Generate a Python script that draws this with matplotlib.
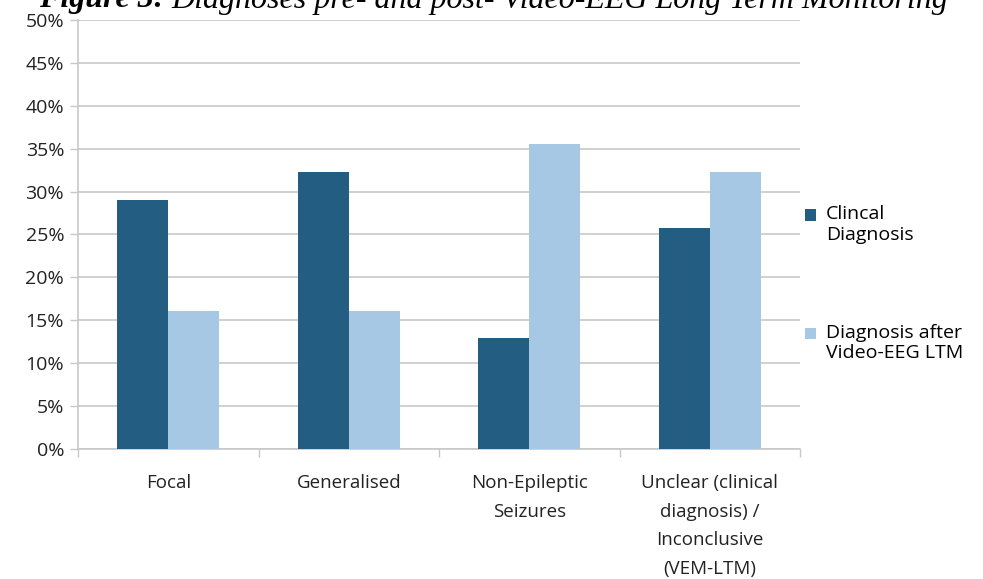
import matplotlib.pyplot as plt
import numpy as np
from matplotlib.patches import Rectangle
from matplotlib.legend_handler import HandlerPatch

categories = ["Focal", "Generalised", "Non-Epileptic\nSeizures",
              "Unclear (clinical\ndiagnosis) /\nInconclusive\n(VEM-LTM)"]
clinical = [29.0, 32.3, 12.9, 25.8]
after_ltm = [16.1, 16.1, 35.5, 32.3]
series_names = ["Clincal\nDiagnosis", "Diagnosis after\nVideo-EEG LTM"]
yticks = [0, 5, 10, 15, 20, 25, 30, 35, 40, 45, 50]

dark = "#245d82"
light = "#a6c8e4"
grid_c = "#c8c8c8"

plt.rcParams['font.family'] = ['Open Sans', 'DejaVu Sans']


def top_square(legend, orig_handle, xdescent, ydescent, width, height, fontsize):
    # lift the legend square up to the first line of a two-line label
    return Rectangle((-xdescent, -ydescent + 0.5 * fontsize), width, height)


fig = plt.figure(figsize=(9.83, 5.79), dpi=100)
ax = fig.add_axes([0.0794, 0.2245, 0.7345, 0.741])

x = np.arange(len(categories))
w = 0.283
bars1 = ax.bar(x - w / 2, clinical, w, color=dark, zorder=3)
bars2 = ax.bar(x + w / 2, after_ltm, w, color=light, zorder=3)

ax.set_xlim(-0.5, len(categories) - 0.5)
ax.set_ylim(0, 50)
ax.set_yticks(yticks)
ax.set_yticklabels(["{}%".format(v) for v in yticks], fontsize=14, color="#222222")
ax.yaxis.grid(True, color=grid_c, linewidth=1.2, zorder=0)
ax.tick_params(axis='y', length=6, color=grid_c, width=1, pad=4)

# category labels centred, tick marks at the boundaries
ax.set_xticks(x)
ax.set_xticklabels(categories, fontsize=13.5, color="#222222", linespacing=1.75)
ax.tick_params(axis='x', length=0, pad=18)
ax.set_xticks(np.arange(len(categories) + 1) - 0.5, minor=True)
ax.tick_params(axis='x', which='minor', length=6, color=grid_c, width=1)

for s in ['top', 'right']:
    ax.spines[s].set_visible(False)
for s in ['left', 'bottom']:
    ax.spines[s].set_color(grid_c)
    ax.spines[s].set_linewidth(1.2)

hm = {Rectangle: HandlerPatch(patch_func=top_square)}
ax.legend(handles=[bars1.patches[0], bars2.patches[0]], labels=series_names,
          loc='center left', bbox_to_anchor=(0.983, 0.385), frameon=False,
          handlelength=0.55, handleheight=0.55, handletextpad=0.5,
          labelspacing=4.1, prop={'size': 14}, handler_map=hm)

# title, partly cut off at the top as in the source scan
fig.text(0.040, 1.0, "Figure 3:", fontsize=23, family='Liberation Serif',
         style='italic', weight='bold', va='center', ha='left')
fig.text(0.174, 1.0, "Diagnoses pre- and post- Video-EEG Long Term Monitoring",
         fontsize=23, family='Liberation Serif', style='italic', va='center', ha='left')

fig.savefig("out.png", dpi=100)
